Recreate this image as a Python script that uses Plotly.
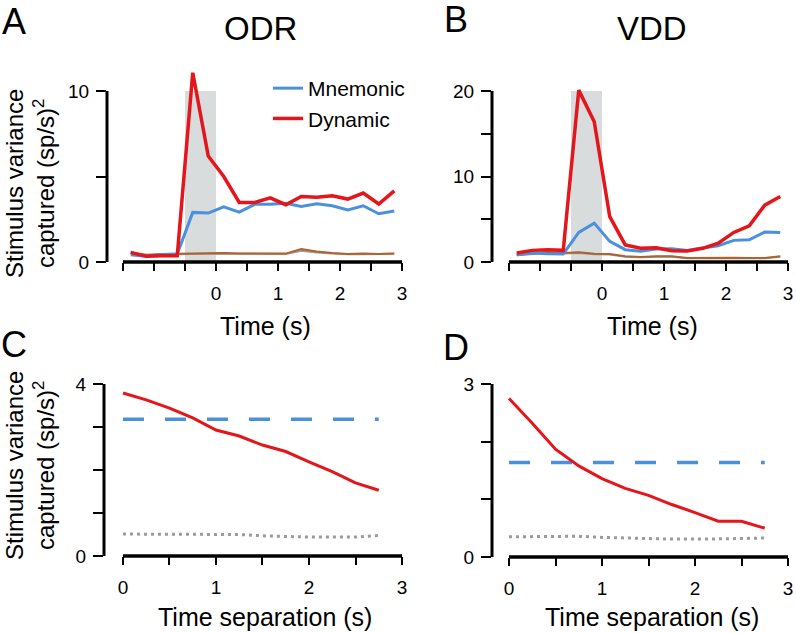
import plotly.graph_objects as go

W, H = 796, 633

# ---------------- data ----------------
time_s = [-1.375, -1.125, -0.875, -0.625, -0.375, -0.125, 0.125, 0.375, 0.625,
          0.875, 1.125, 1.375, 1.625, 1.875, 2.125, 2.375, 2.625, 2.875]

odr_mnemonic = [0.43, 0.33, 0.43, 0.47, 2.90, 2.86, 3.23, 2.92, 3.37,
                3.37, 3.44, 3.25, 3.40, 3.29, 3.05, 3.29, 2.82, 2.98]
odr_dynamic = [0.56, 0.33, 0.37, 0.37, 11.07, 6.20, 5.00, 3.48, 3.48,
               3.75, 3.35, 3.83, 3.79, 3.87, 3.68, 4.03, 3.39, 4.16]
odr_ctrl_a = [0.56, 0.43, 0.47, 0.49, 0.49, 0.53, 0.53, 0.50, 0.49,
              0.47, 0.49, 0.76, 0.62, 0.53, 0.47, 0.49, 0.47, 0.50]
odr_ctrl_b = [0.50, 0.40, 0.44, 0.46, 0.47, 0.50, 0.50, 0.48, 0.47,
              0.45, 0.47, 0.66, 0.55, 0.49, 0.45, 0.46, 0.45, 0.48]

vdd_mnemonic = [0.86, 1.05, 0.97, 0.93, 3.46, 4.55, 2.41, 1.44, 1.25,
                1.52, 1.56, 1.36, 1.63, 1.90, 2.53, 2.60, 3.50, 3.46]
vdd_dynamic = [1.05, 1.36, 1.44, 1.36, 20.10, 16.40, 5.30, 2.00, 1.60,
               1.67, 1.32, 1.28, 1.60, 2.20, 3.46, 4.24, 6.65, 7.67]
vdd_ctrl_a = [0.86, 1.05, 1.17, 1.05, 1.13, 0.97, 0.93, 0.66, 0.58,
              0.66, 0.66, 0.47, 0.50, 0.50, 0.50, 0.47, 0.47, 0.66]
vdd_ctrl_b = [0.80, 0.95, 1.05, 0.98, 1.05, 0.92, 0.88, 0.62, 0.55,
              0.60, 0.60, 0.44, 0.46, 0.46, 0.46, 0.44, 0.44, 0.60]

separation_s = [0.0, 0.25, 0.5, 0.75, 1.0, 1.25, 1.5, 1.75, 2.0, 2.25, 2.5, 2.75]
odr_dyn_sep = [3.79, 3.63, 3.44, 3.21, 2.93, 2.79, 2.58, 2.43, 2.19, 1.96, 1.70, 1.53]
odr_mnem_level = [3.18] * 12
odr_ctrl_sep = [0.51, 0.51, 0.51, 0.51, 0.51, 0.50, 0.47, 0.45, 0.44, 0.44, 0.44, 0.48]

vdd_dyn_sep = [2.75, 2.32, 1.87, 1.58, 1.36, 1.19, 1.07, 0.91, 0.77, 0.62, 0.62, 0.50]
vdd_mnem_level = [1.64] * 12
vdd_ctrl_sep = [0.35, 0.35, 0.35, 0.36, 0.34, 0.33, 0.31, 0.31, 0.31, 0.31, 0.32, 0.33]

time_major = [0, 1, 2, 3]
time_minor = [-1.5, -1.0, -0.5, 0.5, 1.5, 2.5]
sep_major = [0, 1, 2, 3]
sep_minor = [0.5, 1.5, 2.5]

BLUE = "#4a90dc"
RED = "#e4151b"
BROWN = "#b0612c"
GREY = "#9b9b9b"
SHADE = "#d9dcdc"
FONT = "Liberation Sans"

fig = go.Figure()

def add(x, y, xa, ya, color, width, name=None, legend=False, dash=None):
    fig.add_trace(go.Scatter(
        x=x, y=y, mode="lines", xaxis=xa, yaxis=ya, name=name,
        showlegend=legend, hoverinfo="skip",
        line=dict(color=color, width=width, dash=dash)))

# Panel A
add(time_s, odr_ctrl_b, "x", "y", GREY, 2)
add(time_s, odr_ctrl_a, "x", "y", BROWN, 2)
add(time_s, odr_mnemonic, "x", "y", BLUE, 3, "Mnemonic", True)
add(time_s, odr_dynamic, "x", "y", RED, 3.5, "Dynamic", True)
# Panel B
add(time_s, vdd_ctrl_b, "x2", "y2", GREY, 2)
add(time_s, vdd_ctrl_a, "x2", "y2", BROWN, 2)
add(time_s, vdd_mnemonic, "x2", "y2", BLUE, 3)
add(time_s, vdd_dynamic, "x2", "y2", RED, 3.5)
# Panel C
add(separation_s, odr_ctrl_sep, "x3", "y3", GREY, 3, dash="3px,4px")
add(separation_s, odr_mnem_level, "x3", "y3", BLUE, 3.5, dash="21px,21px")
add(separation_s, odr_dyn_sep, "x3", "y3", RED, 3)
# Panel D
add(separation_s, vdd_ctrl_sep, "x4", "y4", GREY, 3, dash="3px,4px")
add(separation_s, vdd_mnem_level, "x4", "y4", BLUE, 3.5, dash="21px,21px")
add(separation_s, vdd_dyn_sep, "x4", "y4", RED, 3)

def xd(a, b):
    return [a / W, b / W]

def yd(top, bottom):
    return [1 - bottom / H, 1 - top / H]

tickfont = dict(family=FONT, size=19, color="black")

def xax(domain, rng, anchor, major, minor):
    return dict(domain=domain, range=rng, anchor=anchor, automargin=False,
                showgrid=False, zeroline=False, showline=False,
                tickmode="array", tickvals=major, ticktext=[str(v) for v in major],
                ticks="outside", ticklen=8, tickwidth=2, tickcolor="black",
                tickfont=tickfont, ticklabelstandoff=6, ticklabeloverflow="allow",
                minor=dict(tickmode="array", tickvals=minor, ticks="outside",
                           ticklen=8, tickwidth=2, tickcolor="black", showgrid=False),
                fixedrange=True)

def yax(domain, rng, anchor, major, minor):
    return dict(domain=domain, range=rng, anchor=anchor, automargin=False,
                showgrid=False, zeroline=False, showline=False,
                tickmode="array", tickvals=major, ticktext=[str(v) for v in major],
                ticks="outside", ticklen=10, tickwidth=2, tickcolor="black",
                tickfont=tickfont, ticklabelstandoff=3, ticklabeloverflow="allow",
                minor=dict(tickmode="array", tickvals=minor, ticks="outside",
                           ticklen=10, tickwidth=2, tickcolor="black", showgrid=False),
                fixedrange=True)

fig.update_layout(
    template="none",
    xaxis=xax(xd(107, 403), [-1.758, 3.016], "y", time_major, time_minor),
    yaxis=yax(yd(65, 262), [0, 11.52], "x", [0, 10], [5]),
    xaxis2=xax(xd(492, 790), [-1.774, 3.032], "y2", time_major, time_minor),
    yaxis2=yax(yd(65, 262), [0, 23.04], "x2", [0, 10, 20], [5, 15]),
    xaxis3=xax(xd(104, 402), [-0.204, 3.0], "y3", sep_major, sep_minor),
    yaxis3=yax(yd(384, 556), [0, 4], "x3", [0, 4], [1, 2, 3]),
    xaxis4=xax(xd(492, 788), [-0.183, 3.0], "y4", sep_major, sep_minor),
    yaxis4=yax(yd(384, 557), [0, 3], "x4", [0, 3], [1, 2]),
)

shapes = []
# stimulus shading
shapes.append(dict(type="rect", xref="x", yref="y", x0=-0.5, x1=0, y0=0, y1=10,
                   fillcolor=SHADE, line=dict(width=0), layer="below"))
shapes.append(dict(type="rect", xref="x2", yref="y2", x0=-0.5, x1=0, y0=0, y1=20,
                   fillcolor=SHADE, line=dict(width=0), layer="below"))
# detached axis lines
for xa, ya, ytop, xlo, xhi in [("x", "y", 10, -1.5, 3), ("x2", "y2", 20, -1.5, 3),
                               ("x3", "y3", 4, 0, 3), ("x4", "y4", 3, 0, 3)]:
    shapes.append(dict(type="line", xref=xa + " domain", yref=ya, x0=0, x1=0,
                       y0=0, y1=ytop, line=dict(color="black", width=3)))
    shapes.append(dict(type="line", xref=xa, yref=ya + " domain", x0=xlo, x1=xhi,
                       y0=0, y1=0, line=dict(color="black", width=3.5)))
fig.update_layout(shapes=shapes)

ann = []
def text(x, y, s, size, angle=0):
    ann.append(dict(x=x / W, y=1 - y / H, xref="paper", yref="paper", text=s,
                    showarrow=False, textangle=angle, xanchor="center", yanchor="middle",
                    font=dict(family=FONT, size=size, color="black")))

text(14, 22, "A", 36)
text(456, 19, "B", 36)
text(14, 344, "C", 36)
text(456, 347, "D", 36)
text(260, 28, "ODR", 33)
text(652, 28, "VDD", 33)
ytitle = "Stimulus variance<br>captured (sp/s)<sup>2</sup>"
text(30, 184, ytitle, 24, -90)
text(30, 466, ytitle, 24, -90)
text(265, 326, "Time (s)", 25)
text(652, 326, "Time (s)", 25)
text(265, 617, "Time separation (s)", 25)
text(652, 617, "Time separation (s)", 25)
fig.update_layout(annotations=ann)

fig.update_layout(
    width=W, height=H, autosize=False, margin=dict(l=0, r=0, t=0, b=0, pad=0),
    paper_bgcolor="white", plot_bgcolor="white",
    font=dict(family=FONT, color="black"),
    showlegend=True,
    legend=dict(x=268 / W, y=1 - 68 / H, xanchor="left", yanchor="top",
                bgcolor="rgba(0,0,0,0)", borderwidth=0,
                font=dict(family=FONT, size=21, color="black"),
                itemwidth=30, tracegroupgap=0),
)

fig.write_html(
    "out.html",
    config={"displayModeBar": False, "staticPlot": False},
    post_script="document.body.style.margin='0px';document.body.style.overflow='hidden';",
)
